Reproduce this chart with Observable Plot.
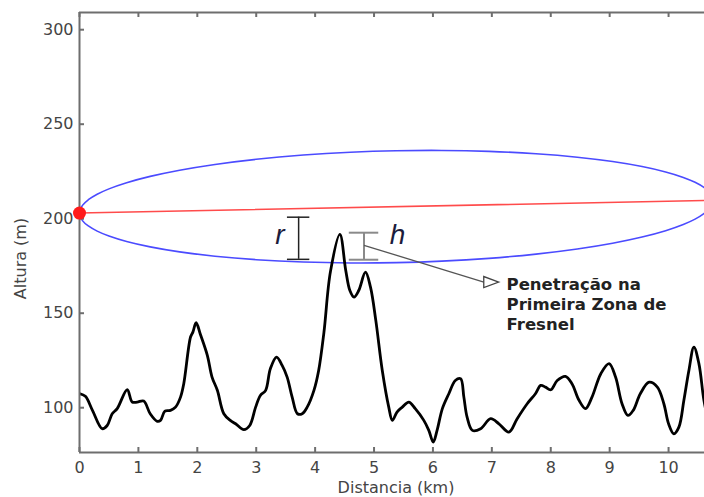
<!DOCTYPE html>
<html>
<head>
<meta charset="utf-8">
<script src="https://cdn.jsdelivr.net/npm/d3@7"></script>
<script src="https://cdn.jsdelivr.net/npm/@observablehq/plot@0.6"></script>
<style>
  html, body { margin: 0; padding: 0; background: #fff; overflow: hidden; }
</style>
</head>
<body>
<div id="chart"></div>
<script>
// ---- Terrain profile (distance km, height m) ----
const profileDist = [0.00, 0.10, 0.22, 0.385, 0.47, 0.555, 0.64, 0.81, 0.895, 0.98, 1.09, 1.20, 1.32, 1.375, 1.45, 1.545, 1.63, 1.715, 1.77, 1.885, 1.925, 1.98, 2.05, 2.17, 2.25, 2.34, 2.45, 2.56, 2.65, 2.79, 2.89, 2.99, 3.07, 3.16, 3.24, 3.345, 3.44, 3.525, 3.61, 3.70, 3.78, 3.865, 3.98, 4.06, 4.15, 4.26, 4.42, 4.52, 4.59, 4.66, 4.74, 4.855, 4.94, 5.03, 5.14, 5.25, 5.31, 5.39, 5.48, 5.59, 5.70, 5.845, 5.93, 6.005, 6.07, 6.16, 6.27, 6.38, 6.47, 6.525, 6.58, 6.67, 6.81, 6.98, 7.12, 7.29, 7.43, 7.60, 7.74, 7.83, 7.91, 8.00, 8.11, 8.25, 8.36, 8.48, 8.59, 8.70, 8.85, 8.99, 9.10, 9.21, 9.31, 9.40, 9.52, 9.67, 9.81, 9.92, 10.00, 10.09, 10.175, 10.26, 10.345, 10.43, 10.515, 10.60, 10.68];
const profileHeight = [107.5, 106, 98.6, 88.9, 90.6, 96.8, 99.5, 109.5, 103, 103, 103.5, 96.8, 92.8, 93.3, 98.2, 98.6, 100.3, 105.6, 112.7, 137.4, 140, 145, 139, 127.7, 116.2, 109.2, 96.8, 93.3, 91.5, 88.4, 90.6, 100.3, 106.5, 109.2, 120.6, 126.8, 122.4, 116.2, 105.6, 96.8, 96.8, 100.3, 109.2, 119.7, 140, 172, 191.7, 172.6, 162, 158.5, 162, 171.7, 163.8, 146.2, 119.7, 100.3, 93.3, 97.7, 100.3, 103, 99.5, 93.3, 88, 81.8, 88, 99.5, 107.4, 114.4, 115.3, 105.6, 95, 88, 88.9, 94.2, 91.5, 87.1, 94.2, 102.1, 107.4, 111.8, 110.9, 109.5, 114.4, 116.6, 112.7, 103.9, 99.5, 105.6, 118, 123.3, 116.2, 102.1, 95.9, 98.6, 107.4, 113.5, 110.9, 102.1, 91.5, 86.2, 89.7, 103.9, 119.7, 132.1, 123.3, 103.9, 92];

// ---- Line of sight (red) ----
const losDist = [0, 10.75];
const losHeight = [203, 209.7];

// ---- First Fresnel zone (blue): radius around line of sight ----
const fresnelDist = [0, 0.05, 0.15, 0.3, 0.5, 0.8, 1.2, 1.7, 2.3, 3.0, 3.8, 4.6, 5.375, 6.15, 6.95, 7.75, 8.45, 9.05, 9.55, 9.95, 10.25, 10.45, 10.6, 10.7, 10.75];
const fresnelRadius = [0, 4.03, 6.94, 9.75, 12.47, 15.54, 18.64, 21.6, 24.28, 26.55, 28.3, 29.29, 29.6, 29.29, 28.3, 26.55, 24.28, 21.6, 18.64, 15.54, 12.47, 9.75, 6.94, 4.03, 0];

// ---- Axes ----
const xTicks = [0, 1, 2, 3, 4, 5, 6, 7, 8, 9, 10];
const yTicks = [100, 150, 200, 250, 300];
const xDomain = [0, 10.61];
const yDomain = [76.3, 309.1];
const xLabel = "Distancia (km)";
const yLabel = "Altura (m)";

// ---- Annotations (data units) ----
const markerNames = ["r", "h"];
const markerLabelX = [3.40, 5.40];
const markerLabelY = [191.2, 191.5];
const barX = [3.72, 4.83];
const barLow = [178.5, 178.3];
const barHigh = [200.8, 192.6];
const barHalf = [0.19, 0.25];
const arrowStart = [4.83, 185.9];
const arrowEnd = [6.864, 166.5];
const arrowHead = [6.99, 166.5];
const noteText = "Penetração na\nPrimeira Zona de\nFresnel";
const notePos = [7.25, 170];

// ---- Build tables ----
const profile = profileDist.map((d, i) => ({d, h: profileHeight[i]}));
const los = losDist.map((d, i) => ({d, h: losHeight[i]}));
const losAt = d => losHeight[0] + (losHeight[1] - losHeight[0]) * (d - losDist[0]) / (losDist[1] - losDist[0]);
const ellipse = [];
fresnelDist.forEach((d, i) => ellipse.push({d, h: losAt(d) + fresnelRadius[i]}));
for (let i = fresnelDist.length - 2; i >= 1; i--) {
  ellipse.push({d: fresnelDist[i], h: losAt(fresnelDist[i]) - fresnelRadius[i]});
}
const bars = markerNames.map((name, i) => ({name, x: barX[i], lo: barLow[i], hi: barHigh[i], half: barHalf[i]}));
const caps = bars.flatMap(b => [{name: b.name, y: b.lo, x1: b.x - b.half, x2: b.x + b.half},
                                {name: b.name, y: b.hi, x1: b.x - b.half, x2: b.x + b.half}]);

const triangleRight = {
  draw(ctx, size) {
    const s = Math.sqrt(size / Math.PI);
    ctx.moveTo(s, 0);
    ctx.lineTo(-s, -0.73 * s);
    ctx.lineTo(-s, 0.73 * s);
    ctx.closePath();
  }
};

const axisColor = "#6e6e6e";
const textColor = "#444";
const tickLenY = 2.65;   // ~5px in metres
const tickLenX = 0.085;  // ~5px in km

const chart = Plot.plot({
  width: 704,
  height: 497,
  marginLeft: 79,
  marginRight: 0,
  marginTop: 12,
  marginBottom: 45,
  style: {fontFamily: "DejaVu Sans", fontSize: "16px", background: "white", overflow: "visible"},
  x: {domain: xDomain},
  y: {domain: yDomain},
  marks: [
    // fresnel ellipse
    Plot.line(ellipse, {x: "d", y: "h", stroke: "#4b4bff", strokeWidth: 1.6, curve: "catmull-rom-closed", clip: true}),
    // line of sight
    Plot.line(los, {x: "d", y: "h", stroke: "#ff4b4b", strokeWidth: 1.6, clip: true}),
    // terrain
    Plot.line(profile, {x: "d", y: "h", stroke: "#000", strokeWidth: 2.8, curve: "catmull-rom", clip: true}),
    // frame
    Plot.ruleX([xDomain[0]], {stroke: axisColor, strokeWidth: 2}),
    Plot.ruleY([yDomain[0]], {stroke: axisColor, strokeWidth: 2}),
    Plot.ruleY([yDomain[1]], {stroke: axisColor, strokeWidth: 2}),
    // inward ticks
    Plot.ruleX(xTicks, {x: d => d, y1: yDomain[0], y2: yDomain[0] + tickLenY, stroke: axisColor, strokeWidth: 2}),
    Plot.ruleX(xTicks, {x: d => d, y1: yDomain[1], y2: yDomain[1] - tickLenY, stroke: axisColor, strokeWidth: 2}),
    Plot.ruleY(yTicks, {y: d => d, x1: xDomain[0], x2: xDomain[0] + tickLenX, stroke: axisColor, strokeWidth: 2}),
    // tick labels
    Plot.axisX({ticks: xTicks, tickSize: 0, tickPadding: 9, label: null, color: textColor, fontSize: 16}),
    Plot.axisY({ticks: yTicks, tickSize: 0, tickPadding: 6, label: null, color: textColor, fontSize: 16}),
    // axis titles
    Plot.text([xLabel], {frameAnchor: "bottom", textAnchor: "middle", lineAnchor: "middle", dx: 4, dy: 35, fill: textColor, fontSize: 16}),
    Plot.text([yLabel], {frameAnchor: "left", textAnchor: "middle", lineAnchor: "middle", rotate: -90, dx: -59, dy: 26, fill: textColor, fontSize: 16}),
    // r / h bars
    Plot.ruleX(bars, {x: "x", y1: "lo", y2: "hi", stroke: d => d.name === "r" ? "#222" : "#8a8a8a", strokeWidth: d => d.name === "r" ? 1.5 : 2}),
    Plot.ruleY(caps, {y: "y", x1: "x1", x2: "x2", stroke: d => d.name === "r" ? "#222" : "#8a8a8a", strokeWidth: d => d.name === "r" ? 1.5 : 2}),
    Plot.text(markerNames, {x: (d, i) => markerLabelX[i], y: (d, i) => markerLabelY[i], text: d => d, fontStyle: "italic", fontFamily: "Liberation Sans", fontSize: 28, fill: "#1c1c3c", textAnchor: "middle"}),
    // arrow to note
    Plot.link([{x1: arrowStart[0], y1: arrowStart[1], x2: arrowEnd[0], y2: arrowEnd[1]}], {x1: "x1", y1: "y1", x2: "x2", y2: "y2", stroke: "#555", strokeWidth: 1.3}),
    Plot.dot([arrowHead], {x: d => d[0], y: d => d[1], symbol: triangleRight, r: 7.5, fill: "white", stroke: "#444", strokeWidth: 1.3}),
    Plot.text([noteText], {x: () => notePos[0], y: () => notePos[1], text: d => d, textAnchor: "start", lineAnchor: "top", lineHeight: 1.22, fontWeight: "bold", fontSize: 16.5, fill: "#222"}),
    // transmitter point
    Plot.dot([[losDist[0], losHeight[0]]], {x: d => d[0], y: d => d[1], r: 6.5, fill: "#ff1a1a"})
  ]
});
document.getElementById("chart").appendChild(chart);
</script>
</body>
</html>
